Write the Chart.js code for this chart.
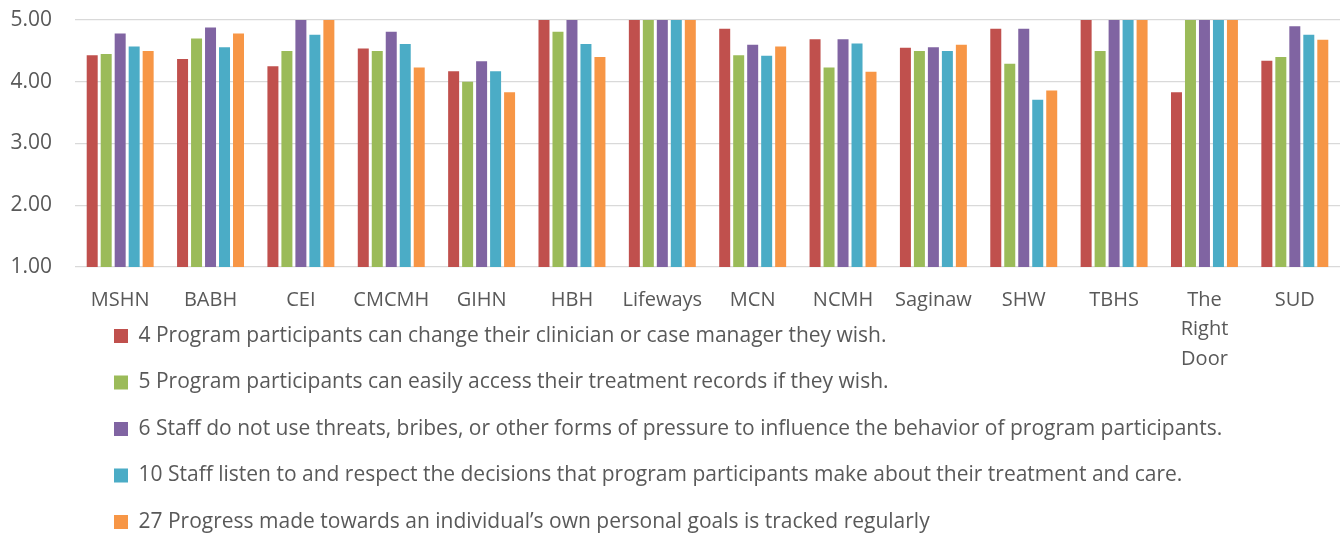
<!DOCTYPE html>
<html>
<head>
<meta charset="utf-8">
<script src="https://cdn.jsdelivr.net/npm/chart.js@4/dist/chart.umd.min.js"></script>
<style>
  html, body { margin: 0; padding: 0; background: #ffffff; }
  #wrap { width: 1343px; height: 533px; }
</style>
</head>
<body>
<div id="wrap"><canvas id="c" width="1343" height="533"></canvas></div>
<script>
const categories = ['MSHN', 'BABH', 'CEI', 'CMCMH', 'GIHN', 'HBH', 'Lifeways', 'MCN', 'NCMH', 'Saginaw', 'SHW', 'TBHS', ['The', 'Right', 'Door'], 'SUD'];

const seriesNames = [
  '4 Program participants can change their clinician or case manager they wish.',
  '5 Program participants can easily access their treatment records if they wish.',
  '6 Staff do not use threats, bribes, or other forms of pressure to influence the behavior of program participants.',
  '10 Staff listen to and respect the decisions that program participants make about their treatment and care.',
  '27 Progress made towards an individual\u2019s own personal goals is tracked regularly'
];

const q4  = [4.43, 4.37, 4.25, 4.54, 4.17, 5.00, 5.00, 4.86, 4.69, 4.55, 4.86, 5.00, 3.83, 4.34];
const q5  = [4.45, 4.70, 4.50, 4.50, 4.00, 4.81, 5.00, 4.43, 4.23, 4.50, 4.29, 4.50, 5.00, 4.40];
const q6  = [4.78, 4.88, 5.00, 4.81, 4.33, 5.00, 5.00, 4.60, 4.69, 4.56, 4.86, 5.00, 5.00, 4.90];
const q10 = [4.57, 4.56, 4.76, 4.61, 4.17, 4.61, 5.00, 4.42, 4.62, 4.50, 3.71, 5.00, 5.00, 4.76];
const q27 = [4.50, 4.78, 5.00, 4.23, 3.83, 4.40, 5.00, 4.57, 4.16, 4.60, 3.86, 5.00, 5.00, 4.68];

const yTickValues = [1, 2, 3, 4, 5];

const colors = ['#C0504D', '#9BBB59', '#8064A2', '#4BACC6', '#F79646'];
const seriesValues = [q4, q5, q6, q10, q27];

const textColor = '#595959';
const fontFamily = '"Open Sans", Lato, sans-serif';

const layoutTweaks = {
  id: 'layoutTweaks',
  afterLayout(chart) {
    if (chart.legend) {
      chart.legend.left = 114 - chart.legend.options.labels.padding;
    }
    // let the wrapped category labels overflow their (shortened) axis box
    chart.scales.x.bottom = chart.height;
  }
};

new Chart(document.getElementById('c'), {
  type: 'bar',
  data: {
    labels: categories,
    datasets: seriesValues.map((vals, i) => ({
      label: seriesNames[i],
      data: vals,
      backgroundColor: colors[i],
      borderWidth: 0,
      categoryPercentage: 0.774,
      barPercentage: 0.786
    }))
  },
  options: {
    responsive: false,
    animation: false,
    layout: { padding: { top: 20, right: 3, bottom: 0, left: 0 } },
    scales: {
      x: {
        grid: { display: false, drawTicks: false },
        border: { display: false },
        ticks: {
          color: textColor,
          font: { family: fontFamily, size: 20, lineHeight: 1.48 },
          padding: 18,
          maxRotation: 0,
          minRotation: 0,
          autoSkip: false
        },
        afterFit(scale) { scale.height = 33; }
      },
      y: {
        min: 1,
        max: 5,
        afterBuildTicks(scale) { scale.ticks = yTickValues.map(v => ({ value: v })); },
        grid: { color: '#D9D9D9', lineWidth: 1.3, drawTicks: false },
        border: { display: false },
        ticks: {
          color: textColor,
          font: { family: fontFamily, size: 21 },
          padding: 23,
          callback: (v) => Number(v).toFixed(2)
        },
        afterFit(scale) {
          scale.width = 75;
          scale.paddingTop = 0;
          scale.paddingBottom = 0;
        }
      }
    },
    plugins: {
      legend: {
        position: 'bottom',
        align: 'start',
        maxHeight: 233,
        labels: {
          color: textColor,
          font: { family: fontFamily, size: 21 },
          boxWidth: 14,
          boxHeight: 14,
          padding: 25.5
        }
      },
      tooltip: { enabled: false }
    }
  },
  plugins: [layoutTweaks]
});
</script>
</body>
</html>
